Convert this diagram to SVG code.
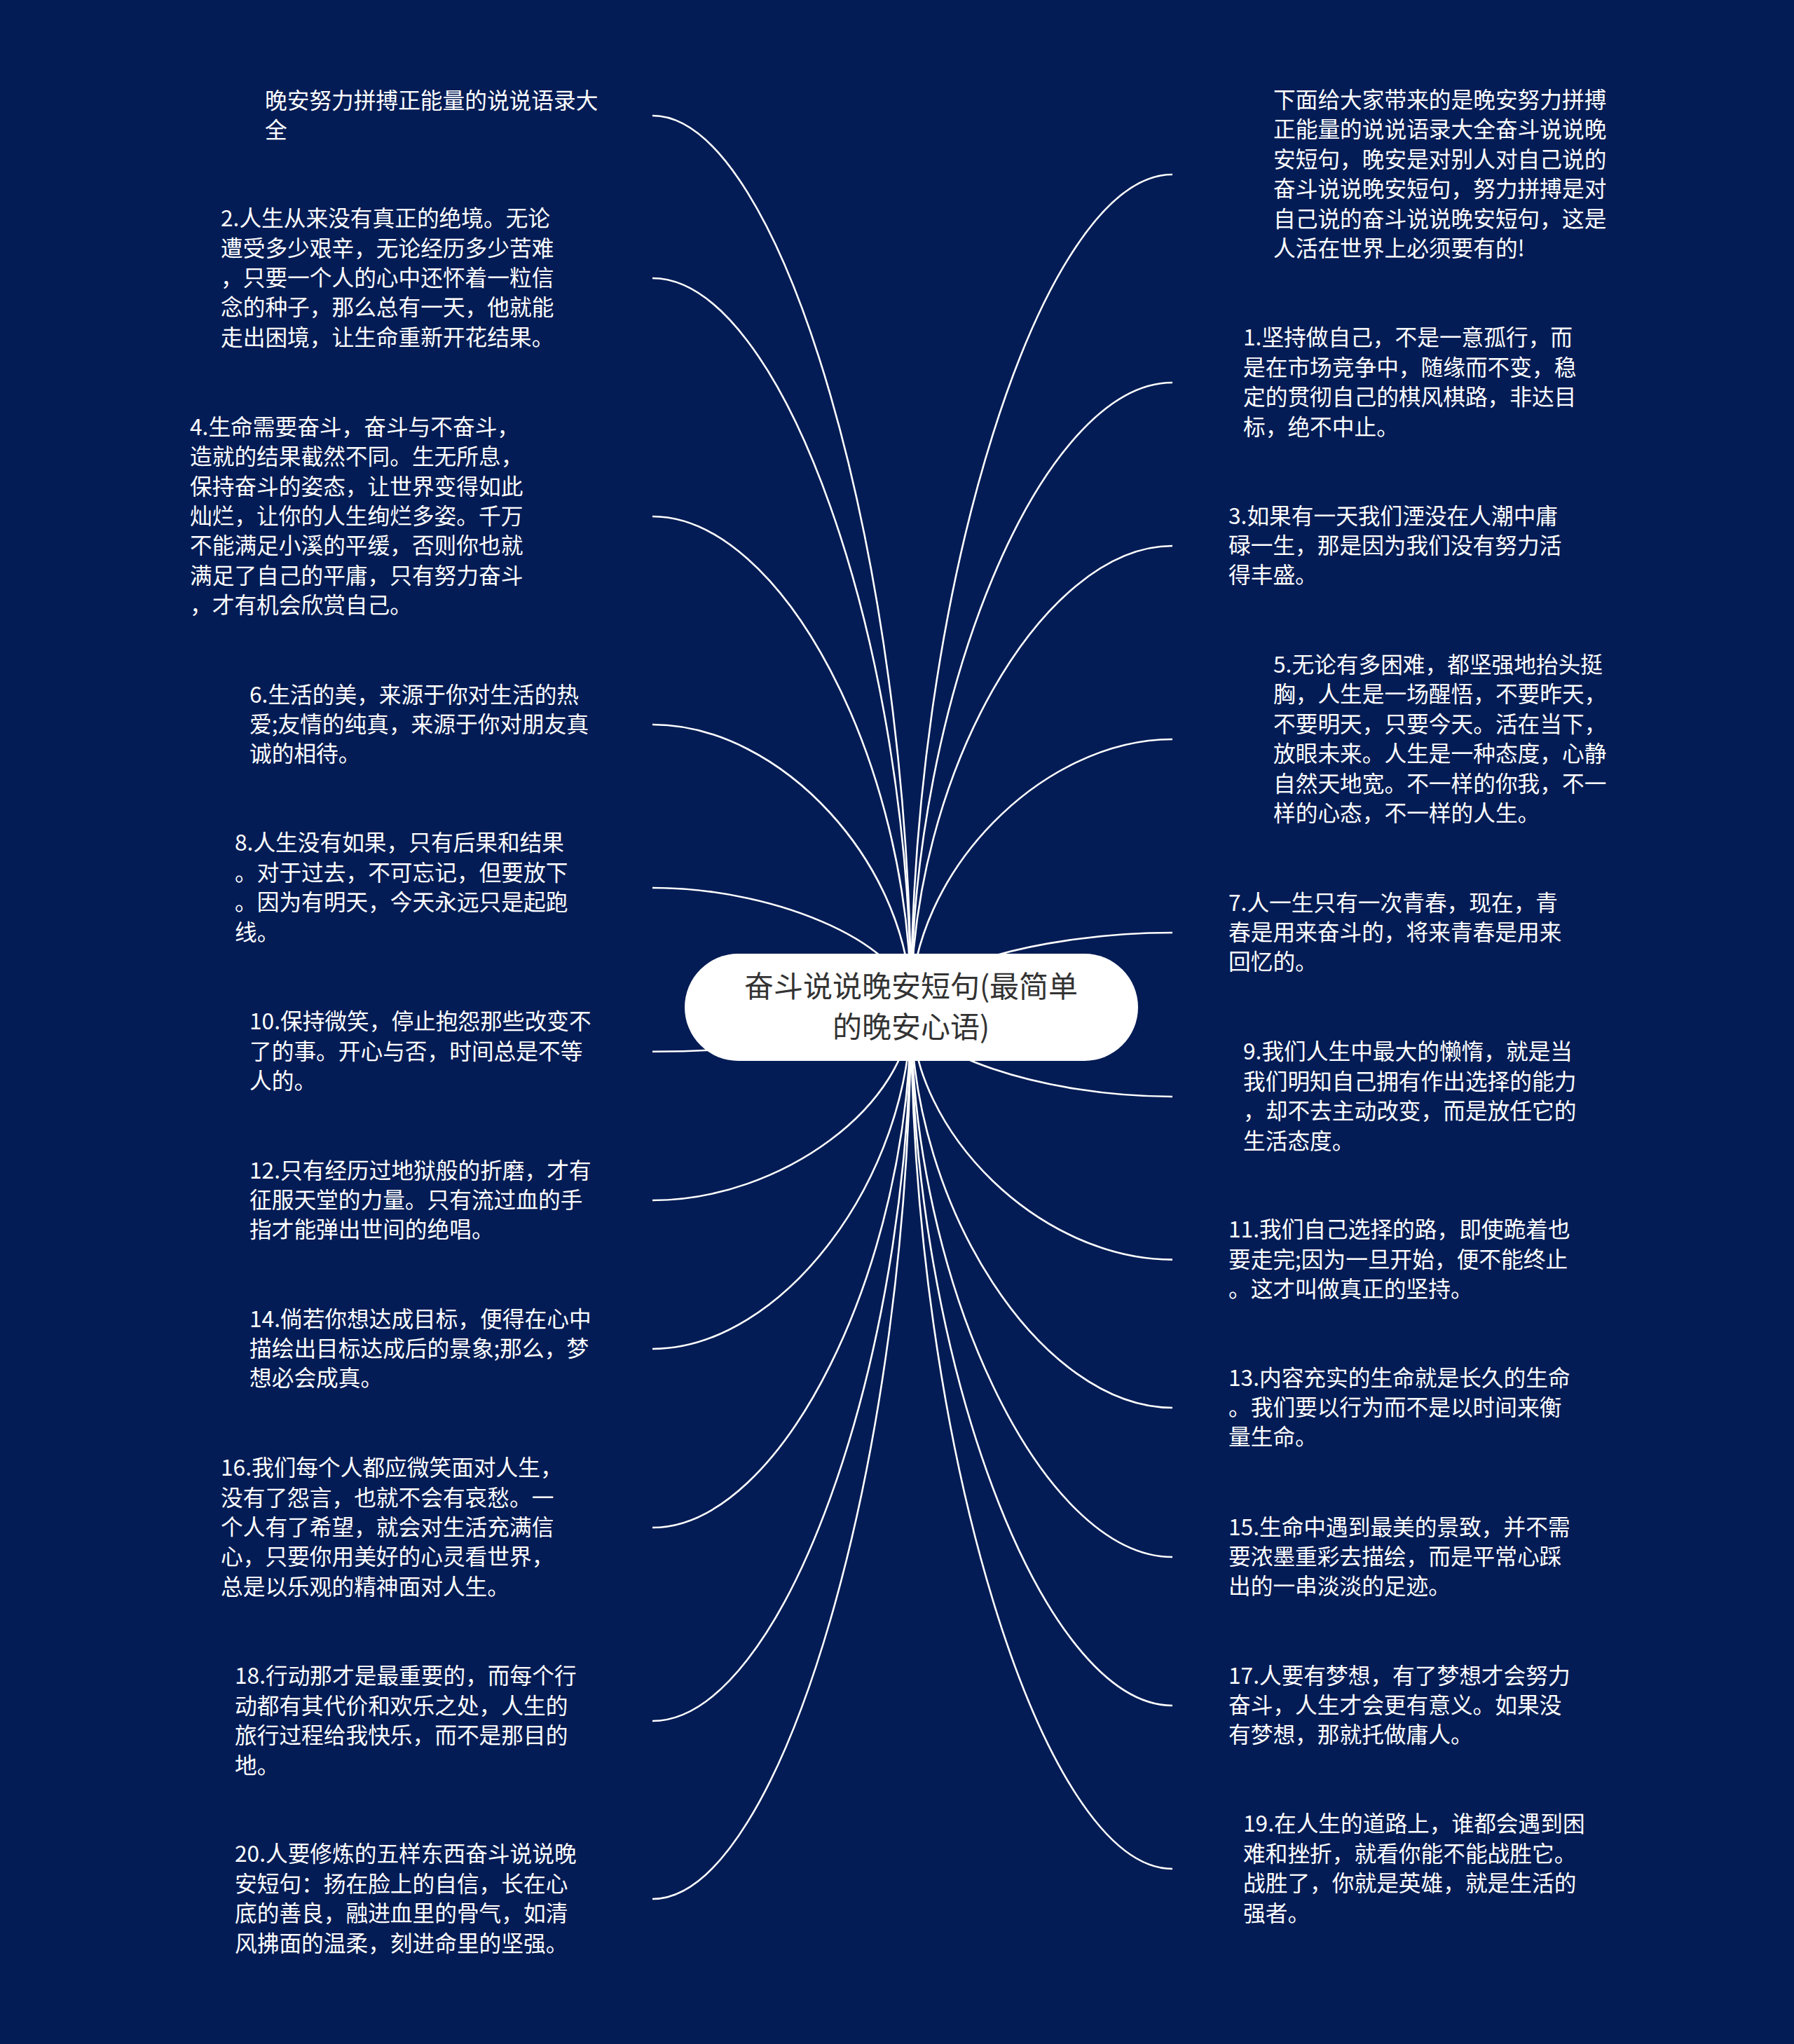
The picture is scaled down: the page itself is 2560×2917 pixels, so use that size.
<svg xmlns="http://www.w3.org/2000/svg" width="2560" height="2917" viewBox="0 0 2560 2917">
<style>
.bg{fill:#031c55}
.link{fill:none;stroke:#ffffff;stroke-width:2.6}
.t{font-family:"Noto Sans CJK SC","Noto Sans",sans-serif;font-size:31.7px;fill:#ffffff}
.root{fill:#ffffff}
.rt{font-family:"Noto Sans CJK SC","Noto Sans",sans-serif;font-size:42px;fill:#333333;text-anchor:middle}
</style>
<rect class="bg" x="0" y="0" width="2560" height="2917"/>
<g id="connectors">
<path class="link" d="M1300 1438 C1300 801.5 1115.5 165 931 165"/>
<path class="link" d="M1300 1438 C1300 917.5 1115.5 397 931 397"/>
<path class="link" d="M1300 1438 C1300 1087.5 1115.5 737 931 737"/>
<path class="link" d="M1300 1438 C1300 1236 1115.5 1034 931 1034"/>
<path class="link" d="M1300 1438 C1300 1352.5 1115.5 1267 931 1267"/>
<path class="link" d="M1300 1438 C1300 1469.4 1115.5 1500.7 931 1500.7"/>
<path class="link" d="M1300 1438 C1300 1575.5 1115.5 1713 931 1713"/>
<path class="link" d="M1300 1438 C1300 1681.5 1115.5 1925 931 1925"/>
<path class="link" d="M1300 1438 C1300 1809 1115.5 2180 931 2180"/>
<path class="link" d="M1300 1438 C1300 1947 1115.5 2456 931 2456"/>
<path class="link" d="M1300 1438 C1300 2074 1115.5 2710 931 2710"/>
<path class="link" d="M1300 1438 C1300 843.5 1486.5 249 1673 249"/>
<path class="link" d="M1300 1438 C1300 992 1486.5 546 1673 546"/>
<path class="link" d="M1300 1438 C1300 1108.5 1486.5 779 1673 779"/>
<path class="link" d="M1300 1438 C1300 1246.5 1486.5 1055 1673 1055"/>
<path class="link" d="M1300 1438 C1300 1384.5 1486.5 1331 1673 1331"/>
<path class="link" d="M1300 1438 C1300 1501.5 1486.5 1565 1673 1565"/>
<path class="link" d="M1300 1438 C1300 1617.8 1486.5 1797.6 1673 1797.6"/>
<path class="link" d="M1300 1438 C1300 1723.5 1486.5 2009 1673 2009"/>
<path class="link" d="M1300 1438 C1300 1830 1486.5 2222 1673 2222"/>
<path class="link" d="M1300 1438 C1300 1936 1486.5 2434 1673 2434"/>
<path class="link" d="M1300 1438 C1300 2052.5 1486.5 2667 1673 2667"/>
</g>
<g id="root">
<rect class="root" x="977" y="1361" width="647" height="153" rx="76.5"/>
<text class="rt" x="1300" y="1423">奋斗说说晚安短句(最简单</text>
<text class="rt" x="1300" y="1481">的晚安心语)</text>
</g>
<g id="L1"><text class="t" x="378" y="155"><tspan x="378" y="155">晚安努力拼搏正能量的说说语录大</tspan><tspan x="378" y="197.4">全</tspan></text></g>
<g id="L2"><text class="t"><tspan x="315" y="323.2">2.人生从来没有真正的绝境。无论</tspan><tspan x="315" y="365.6">遭受多少艰辛，无论经历多少苦难</tspan><tspan x="315" y="408">，只要一个人的心中还怀着一粒信</tspan><tspan x="315" y="450.4">念的种子，那么总有一天，他就能</tspan><tspan x="315" y="492.8">走出困境，让生命重新开花结果。</tspan></text></g>
<g id="L3"><text class="t"><tspan x="271" y="620.8">4.生命需要奋斗，奋斗与不奋斗，</tspan><tspan x="271" y="663.2">造就的结果截然不同。生无所息，</tspan><tspan x="271" y="705.6">保持奋斗的姿态，让世界变得如此</tspan><tspan x="271" y="748">灿烂，让你的人生绚烂多姿。千万</tspan><tspan x="271" y="790.4">不能满足小溪的平缓，否则你也就</tspan><tspan x="271" y="832.8">满足了自己的平庸，只有努力奋斗</tspan><tspan x="271" y="875.2">，才有机会欣赏自己。</tspan></text></g>
<g id="L4"><text class="t"><tspan x="356" y="1002.6">6.生活的美，来源于你对生活的热</tspan><tspan x="356" y="1045">爱;友情的纯真，来源于你对朋友真</tspan><tspan x="356" y="1087.4">诚的相待。</tspan></text></g>
<g id="L5"><text class="t"><tspan x="335" y="1214.4">8.人生没有如果，只有后果和结果</tspan><tspan x="335" y="1256.8">。对于过去，不可忘记，但要放下</tspan><tspan x="335" y="1299.2">。因为有明天，今天永远只是起跑</tspan><tspan x="335" y="1341.6">线。</tspan></text></g>
<g id="L6"><text class="t"><tspan x="356" y="1469.3">10.保持微笑，停止抱怨那些改变不</tspan><tspan x="356" y="1511.7">了的事。开心与否，时间总是不等</tspan><tspan x="356" y="1554.1">人的。</tspan></text></g>
<g id="L7"><text class="t"><tspan x="356" y="1681.6">12.只有经历过地狱般的折磨，才有</tspan><tspan x="356" y="1724">征服天堂的力量。只有流过血的手</tspan><tspan x="356" y="1766.4">指才能弹出世间的绝唱。</tspan></text></g>
<g id="L8"><text class="t"><tspan x="356" y="1893.6">14.倘若你想达成目标，便得在心中</tspan><tspan x="356" y="1936">描绘出目标达成后的景象;那么，梦</tspan><tspan x="356" y="1978.4">想必会成真。</tspan></text></g>
<g id="L9"><text class="t"><tspan x="315" y="2106.2">16.我们每个人都应微笑面对人生，</tspan><tspan x="315" y="2148.6">没有了怨言，也就不会有哀愁。一</tspan><tspan x="315" y="2191">个人有了希望，就会对生活充满信</tspan><tspan x="315" y="2233.4">心，只要你用美好的心灵看世界，</tspan><tspan x="315" y="2275.8">总是以乐观的精神面对人生。</tspan></text></g>
<g id="L10"><text class="t"><tspan x="335" y="2403.4">18.行动那才是最重要的，而每个行</tspan><tspan x="335" y="2445.8">动都有其代价和欢乐之处，人生的</tspan><tspan x="335" y="2488.2">旅行过程给我快乐，而不是那目的</tspan><tspan x="335" y="2530.6">地。</tspan></text></g>
<g id="L11"><text class="t"><tspan x="335" y="2657.4">20.人要修炼的五样东西奋斗说说晚</tspan><tspan x="335" y="2699.8">安短句：扬在脸上的自信，长在心</tspan><tspan x="335" y="2742.2">底的善良，融进血里的骨气，如清</tspan><tspan x="335" y="2784.6">风拂面的温柔，刻进命里的坚强。</tspan></text></g>
<g id="R1"><text class="t"><tspan x="1817" y="154">下面给大家带来的是晚安努力拼搏</tspan><tspan x="1817" y="196.4">正能量的说说语录大全奋斗说说晚</tspan><tspan x="1817" y="238.8">安短句，晚安是对别人对自己说的</tspan><tspan x="1817" y="281.2">奋斗说说晚安短句，努力拼搏是对</tspan><tspan x="1817" y="323.6">自己说的奋斗说说晚安短句，这是</tspan><tspan x="1817" y="366">人活在世界上必须要有的!</tspan></text></g>
<g id="R2"><text class="t"><tspan x="1774" y="493.4">1.坚持做自己，不是一意孤行，而</tspan><tspan x="1774" y="535.8">是在市场竞争中，随缘而不变，稳</tspan><tspan x="1774" y="578.2">定的贯彻自己的棋风棋路，非达目</tspan><tspan x="1774" y="620.6">标，绝不中止。</tspan></text></g>
<g id="R3"><text class="t"><tspan x="1753" y="747.6">3.如果有一天我们湮没在人潮中庸</tspan><tspan x="1753" y="790">碌一生，那是因为我们没有努力活</tspan><tspan x="1753" y="832.4">得丰盛。</tspan></text></g>
<g id="R4"><text class="t"><tspan x="1817" y="960">5.无论有多困难，都坚强地抬头挺</tspan><tspan x="1817" y="1002.4">胸，人生是一场醒悟，不要昨天，</tspan><tspan x="1817" y="1044.8">不要明天，只要今天。活在当下，</tspan><tspan x="1817" y="1087.2">放眼未来。人生是一种态度，心静</tspan><tspan x="1817" y="1129.6">自然天地宽。不一样的你我，不一</tspan><tspan x="1817" y="1172">样的心态，不一样的人生。</tspan></text></g>
<g id="R5"><text class="t"><tspan x="1753" y="1299.6">7.人一生只有一次青春，现在，青</tspan><tspan x="1753" y="1342">春是用来奋斗的，将来青春是用来</tspan><tspan x="1753" y="1384.4">回忆的。</tspan></text></g>
<g id="R6"><text class="t"><tspan x="1774" y="1512.4">9.我们人生中最大的懒惰，就是当</tspan><tspan x="1774" y="1554.8">我们明知自己拥有作出选择的能力</tspan><tspan x="1774" y="1597.2">，却不去主动改变，而是放任它的</tspan><tspan x="1774" y="1639.6">生活态度。</tspan></text></g>
<g id="R7"><text class="t"><tspan x="1753" y="1766.2">11.我们自己选择的路，即使跪着也</tspan><tspan x="1753" y="1808.6">要走完;因为一旦开始，便不能终止</tspan><tspan x="1753" y="1851">。这才叫做真正的坚持。</tspan></text></g>
<g id="R8"><text class="t"><tspan x="1753" y="1977.6">13.内容充实的生命就是长久的生命</tspan><tspan x="1753" y="2020">。我们要以行为而不是以时间来衡</tspan><tspan x="1753" y="2062.4">量生命。</tspan></text></g>
<g id="R9"><text class="t"><tspan x="1753" y="2190.6">15.生命中遇到最美的景致，并不需</tspan><tspan x="1753" y="2233">要浓墨重彩去描绘，而是平常心踩</tspan><tspan x="1753" y="2275.4">出的一串淡淡的足迹。</tspan></text></g>
<g id="R10"><text class="t"><tspan x="1753" y="2402.6">17.人要有梦想，有了梦想才会努力</tspan><tspan x="1753" y="2445">奋斗，人生才会更有意义。如果没</tspan><tspan x="1753" y="2487.4">有梦想，那就托做庸人。</tspan></text></g>
<g id="R11"><text class="t"><tspan x="1774" y="2614.4">19.在人生的道路上，谁都会遇到困</tspan><tspan x="1774" y="2656.8">难和挫折，就看你能不能战胜它。</tspan><tspan x="1774" y="2699.2">战胜了，你就是英雄，就是生活的</tspan><tspan x="1774" y="2741.6">强者。</tspan></text></g>
</svg>
